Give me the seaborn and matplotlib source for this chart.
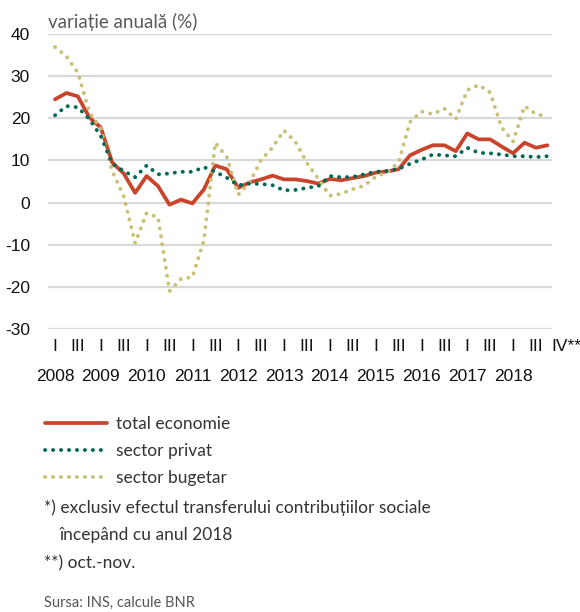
import numpy as np
import pandas as pd
import matplotlib
matplotlib.use('Agg')
import matplotlib.pyplot as plt
import matplotlib.transforms as mtransforms
from matplotlib import font_manager
import seaborn as sns

# quarterly data, 2008 Q1 .. 2018 Q4 (annual change, %)
years = list(range(2008, 2019))
quarters = ['I', 'II', 'III', 'IV']

total_economie = [24.5, 26.0, 25.2, 20.2, 17.8, 9.5, 6.9, 2.3, 6.3, 3.9,
                  -0.5, 0.7, -0.2, 3.1, 8.8, 7.9, 3.5, 4.8, 5.5, 6.4,
                  5.5, 5.5, 5.1, 4.5, 5.6, 5.3, 5.8, 6.3, 7.1, 7.4,
                  7.9, 11.2, 12.5, 13.6, 13.6, 12.2, 16.4, 15.0, 15.0, 13.3,
                  11.7, 14.2, 13.0, 13.6]
sector_privat = [20.7, 22.9, 22.6, 19.8, 15.8, 9.2, 7.5, 6.0, 8.8, 6.7,
                 6.9, 7.3, 7.3, 8.4, 7.3, 5.9, 4.1, 4.5, 4.4, 4.1,
                 2.9, 3.0, 3.5, 3.9, 6.3, 6.0, 6.1, 6.7, 7.3, 7.5,
                 8.0, 9.2, 10.2, 11.4, 11.2, 11.0, 13.0, 11.8, 11.7, 11.4,
                 11.0, 11.0, 10.8, 11.0]
sector_bugetar = [36.9, 34.7, 30.8, 21.4, 17.6, 7.5, 1.5, -9.6, -2.5, -3.5,
                  -21.0, -18.1, -17.7, -9.0, 14.2, 10.8, 1.9, 4.8, 10.1, 13.1,
                  17.1, 14.4, 9.4, 5.6, 1.6, 2.1, 3.2, 4.0, 6.1, 7.2,
                  9.5, 19.1, 21.6, 21.0, 22.3, 19.8, 26.7, 27.9, 26.1, 17.8,
                  14.5, 22.9, 21.0, 20.4]

labels = ['total economie', 'sector privat', 'sector bugetar']
colors = {'total economie': '#c9442a', 'sector privat': '#006a55', 'sector bugetar': '#c9c175'}

periods = [f'{y} {q}' for y in years for q in quarters]
df = pd.DataFrame({
    'idx': np.arange(len(periods)),
    'period': periods,
    'total economie': total_economie,
    'sector privat': sector_privat,
    'sector bugetar': sector_bugetar,
})

names = {f.name for f in font_manager.fontManager.ttflist}
tick_font = 'Liberation Sans Narrow' if 'Liberation Sans Narrow' in names else 'Liberation Sans'
text_font = 'Lato'

sns.set_style('white')
plt.rcParams['font.family'] = [text_font, 'DejaVu Sans']
plt.rcParams['axes.unicode_minus'] = False

fig = plt.figure(figsize=(5.8, 6.12), dpi=100)
ax = fig.add_axes([48 / 580, 1 - 329 / 612, 504 / 580, 295 / 612])

# draw lines
sns.lineplot(data=df, x='idx', y='total economie', ax=ax, color=colors['total economie'],
             linewidth=2.7, solid_capstyle='round', label='total economie')
sns.lineplot(data=df, x='idx', y='sector bugetar', ax=ax, color=colors['sector bugetar'],
             linewidth=2.8, linestyle=(0, (0.05, 2.0)), dash_capstyle='round', label='sector bugetar')
sns.lineplot(data=df, x='idx', y='sector privat', ax=ax, color=colors['sector privat'],
             linewidth=2.8, linestyle=(0, (0.05, 2.0)), dash_capstyle='round', label='sector privat')

ax.set_ylim(-30, 40)
ax.set_xlim(-0.61, 43.4)
ax.set_yticks(range(-30, 41, 10))
ax.yaxis.grid(True, color='#d9d9d9', linewidth=1.6)
ax.xaxis.grid(False)
for s in ax.spines.values():
    s.set_visible(False)
ax.set_xlabel('')
ax.set_ylabel('')

# quarter labels (major) and year labels (minor)
qpos = [i for i in range(len(periods)) if i % 4 in (0, 2)] + [len(periods) - 1]
qlab = [quarters[i % 4] for i in qpos[:-1]] + ['IV**']
ax.set_xticks(qpos)
ax.set_xticklabels(qlab)
ax.xaxis.remove_overlapping_locs = False
ax.set_xticks([i for i in range(len(periods)) if i % 4 == 0], minor=True)
ax.set_xticklabels([str(y) for y in years], minor=True)

ax.tick_params(axis='x', which='major', length=0, pad=7, labelsize=12.5, labelcolor='#111')
ax.tick_params(axis='x', which='minor', length=0, pad=29, labelsize=12.5, labelcolor='#111')
ax.tick_params(axis='y', length=0, pad=13, labelsize=12.5, labelcolor='#111')
for t in ax.get_xticklabels(which='both') + ax.get_yticklabels():
    t.set_fontfamily(tick_font)
last = ax.get_xticklabels()[-1]
last.set_horizontalalignment('left')
last.set_transform(last.get_transform() + mtransforms.ScaledTranslation(4 / 100, 0, fig.dpi_scale_trans))

ax.get_legend().remove()

# title
fig.text(48 / 580, 1 - 22 / 612, 'variație anuală (%)', va='center', ha='left',
         fontsize=13.5, color='#5a5a5a')

# legend below the plot
handles = {l.get_label(): l for l in ax.get_lines()}
fig.legend([handles[k] for k in labels], labels, loc='upper left',
           bbox_to_anchor=(29 / 580, 1 - 400 / 612), frameon=False,
           fontsize=12.5, handlelength=3.6, handletextpad=0.5, labelspacing=0.65,
           labelcolor='#333333')

fig.text(44 / 580, 1 - 508 / 612, '*) exclusiv efectul transferului contribuțiilor sociale',
         va='center', fontsize=12.5, color='#333333')
fig.text(60 / 580, 1 - 535 / 612, 'începând cu anul 2018', va='center', fontsize=12.5, color='#333333')
fig.text(44 / 580, 1 - 563 / 612, '**) oct.-nov.', va='center', fontsize=12.5, color='#333333')
fig.text(44 / 580, 1 - 603 / 612, 'Sursa: INS, calcule BNR', va='center', fontsize=10.5, color='#555555')

fig.savefig('out.png', dpi=100)
